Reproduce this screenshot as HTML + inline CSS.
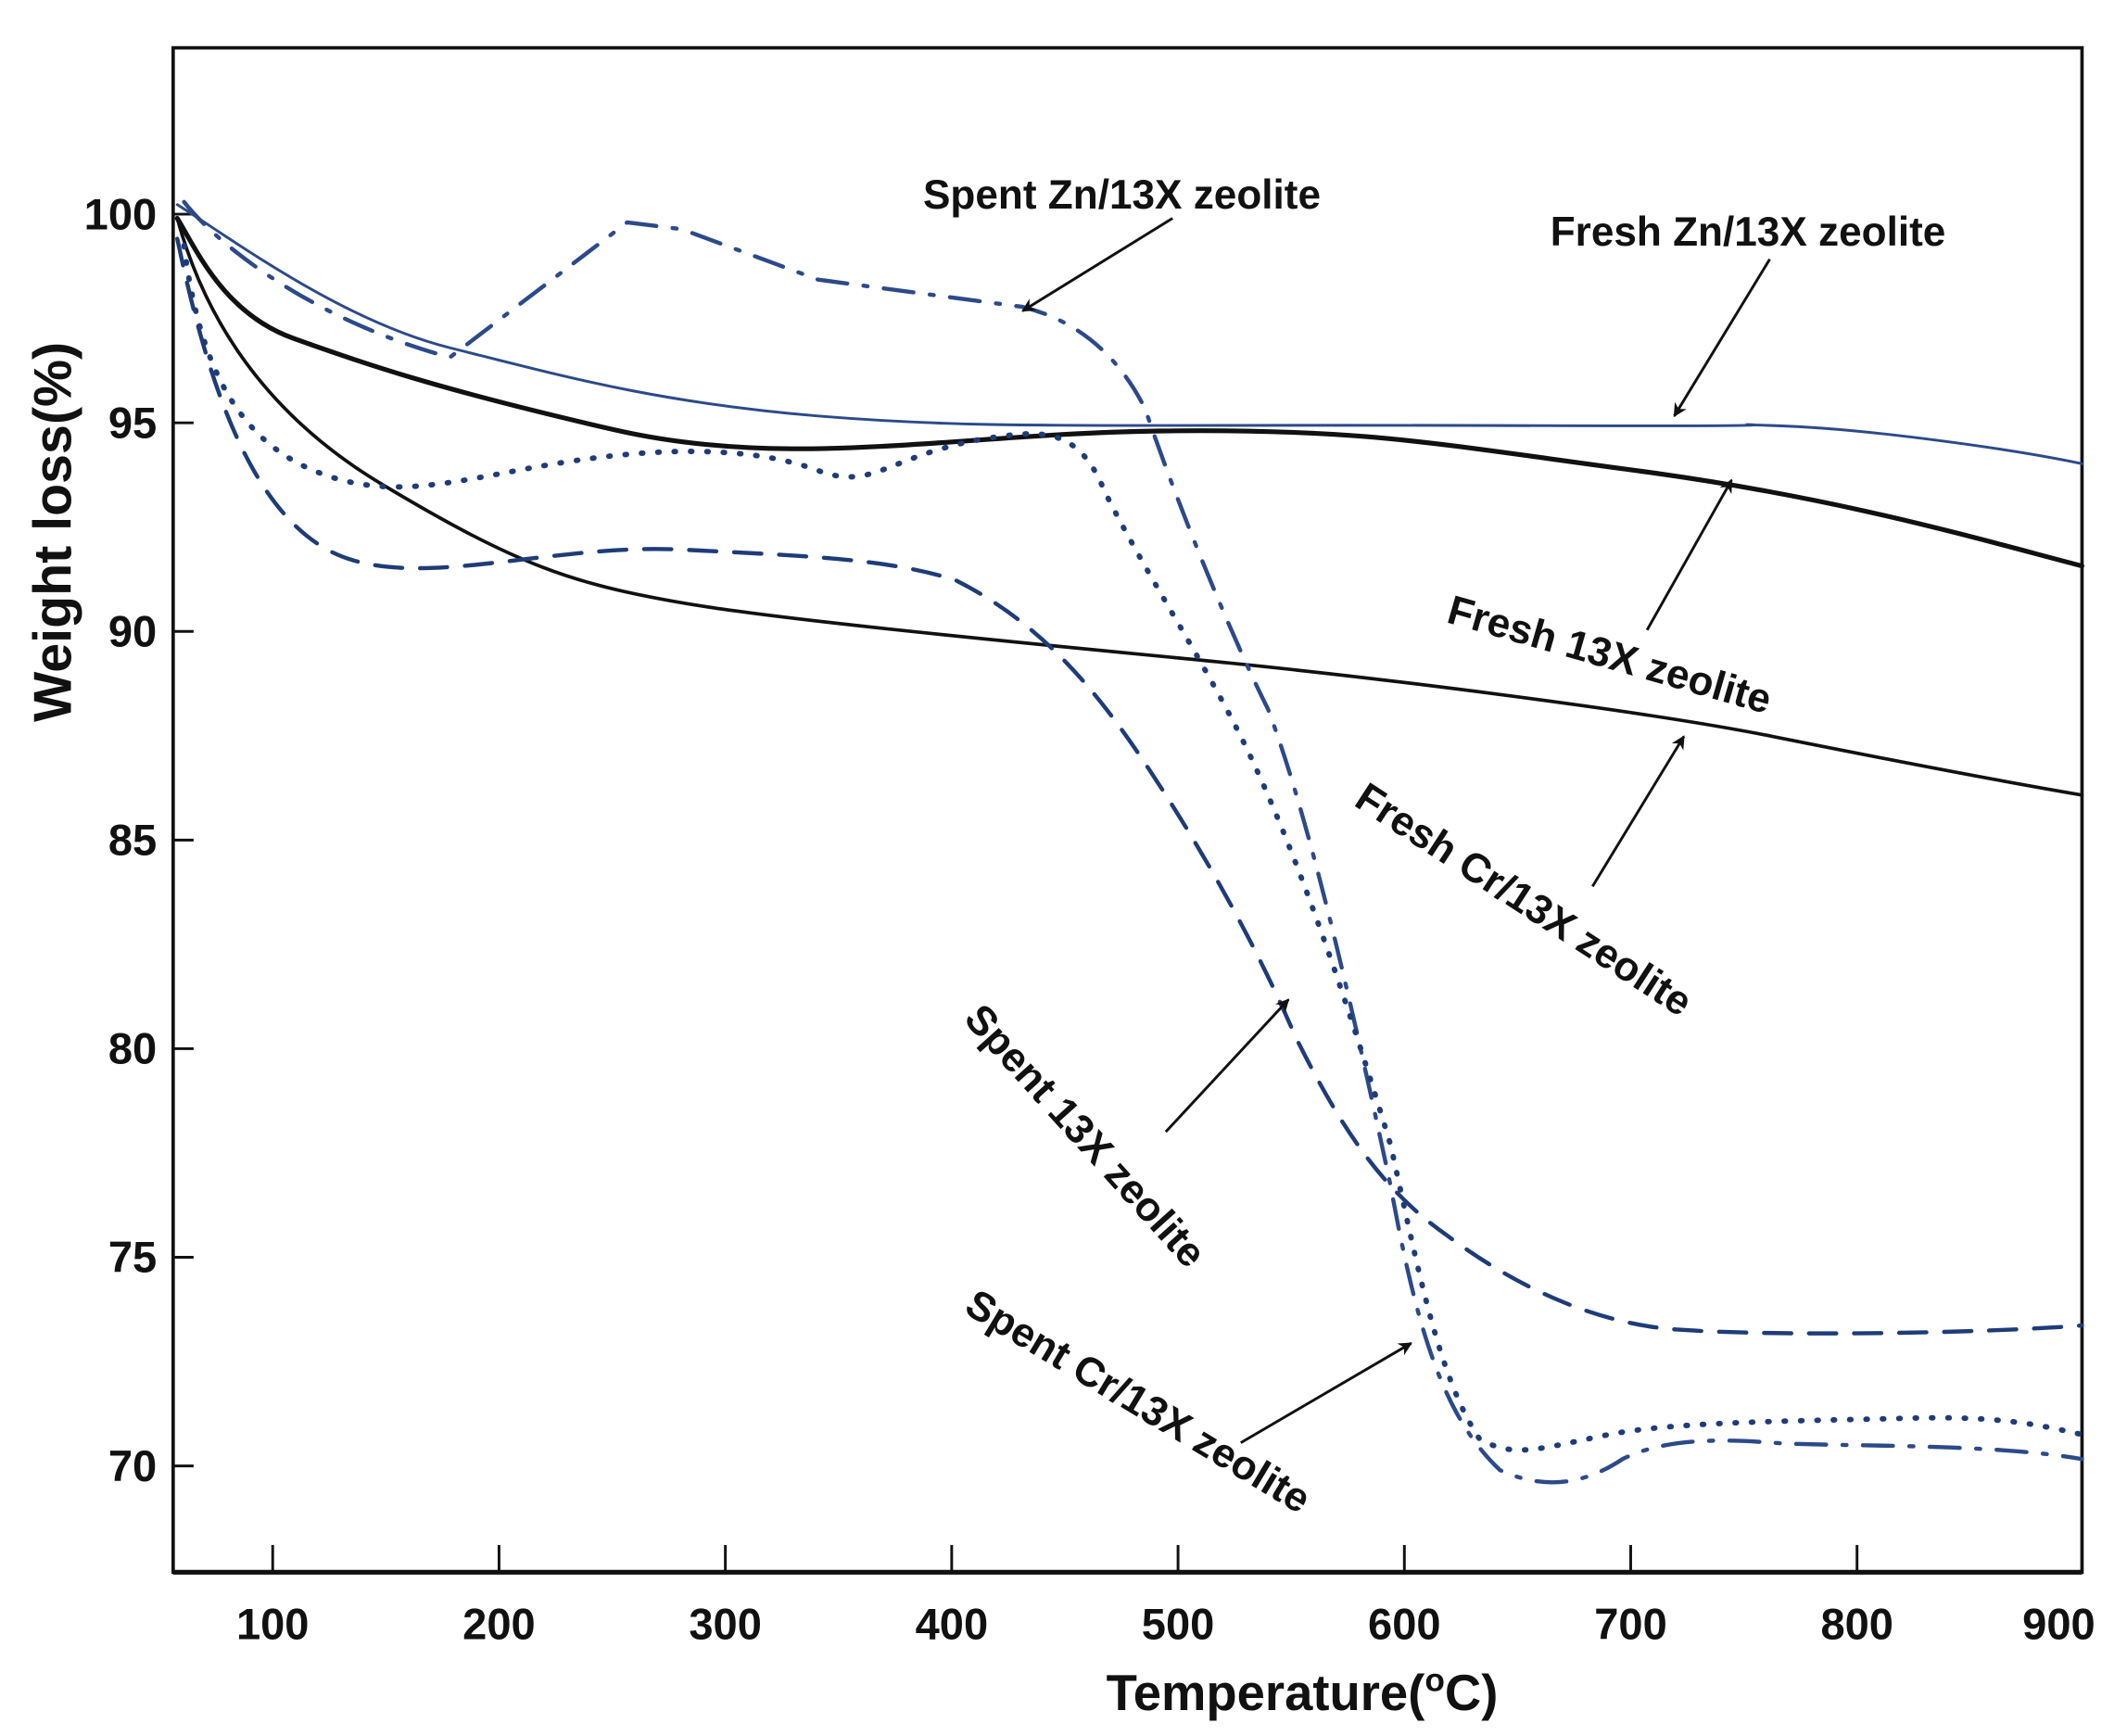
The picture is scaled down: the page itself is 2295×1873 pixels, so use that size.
<!DOCTYPE html>
<html><head><meta charset="utf-8"><style>
html,body{margin:0;padding:0;background:#fff;}
svg{display:block;}
text{font-family:"Liberation Sans",Arial,sans-serif;font-weight:bold;fill:#111;}
</style></head><body>
<svg width="2295" height="1873" viewBox="0 0 1560 1273" xmlns="http://www.w3.org/2000/svg">
<rect width="1560" height="1273" fill="#fff"/>
<defs><marker id="ah" markerWidth="10" markerHeight="10" refX="9" refY="5" orient="auto" markerUnits="userSpaceOnUse"><path d="M0,0 L10,5 L0,10 L3,5 z" fill="#111"/></marker></defs>
<rect x="127" y="35" width="1400" height="1118" fill="none" stroke="#111" stroke-width="2.5"/>
<line x1="127" y1="1153" x2="1527" y2="1153" stroke="#111" stroke-width="3.5"/>
<g stroke="#111" stroke-width="2">
<line x1="127" y1="157" x2="142" y2="157"/><line x1="127" y1="310" x2="142" y2="310"/>
<line x1="127" y1="463" x2="142" y2="463"/><line x1="127" y1="616" x2="142" y2="616"/>
<line x1="127" y1="769" x2="142" y2="769"/><line x1="127" y1="922" x2="142" y2="922"/>
<line x1="127" y1="1075" x2="142" y2="1075"/>
<line x1="200" y1="1153" x2="200" y2="1133"/><line x1="366" y1="1153" x2="366" y2="1133"/>
<line x1="532" y1="1153" x2="532" y2="1133"/><line x1="698" y1="1153" x2="698" y2="1133"/>
<line x1="864" y1="1153" x2="864" y2="1133"/><line x1="1030" y1="1153" x2="1030" y2="1133"/>
<line x1="1196" y1="1153" x2="1196" y2="1133"/><line x1="1362" y1="1153" x2="1362" y2="1133"/>
</g>
<g font-size="32" text-anchor="end">
<text x="115" y="168">100</text><text x="115" y="321">95</text><text x="115" y="474">90</text>
<text x="115" y="627">85</text><text x="115" y="780">80</text><text x="115" y="933">75</text><text x="115" y="1086">70</text>
</g>
<g font-size="32" text-anchor="middle">
<text x="200" y="1202">100</text><text x="366" y="1202">200</text><text x="532" y="1202">300</text>
<text x="698" y="1202">400</text><text x="864" y="1202">500</text><text x="1030" y="1202">600</text>
<text x="1196" y="1202">700</text><text x="1362" y="1202">800</text><text x="1510" y="1202">900</text>
</g>
<text x="955" y="1254" font-size="37" text-anchor="middle">Temperature(<tspan font-size="24" dy="-14">o</tspan><tspan dy="14">C)</tspan></text>
<text transform="translate(52,390) rotate(-90)" font-size="39" text-anchor="middle">Weight loss(%)</text>

<g fill="none" stroke-linecap="round" stroke-linejoin="round">
<path d="M130,150 C170,175 250,235 330,255 S480,295 600,305 S800,311 1100,312 S1230,310 1300,312 S1480,330 1527,340" stroke="#2c4a8a" stroke-width="2"/>
<path d="M130,160 C145,185 165,230 215,248 S320,285 450,315 S700,318 850,316 S1050,325 1200,345 S1450,395 1527,415" stroke="#111" stroke-width="3.5"/>
<path d="M130,160 C145,215 180,295 280,355 S420,428 500,442 S800,476 900,486 S1200,520 1300,540 S1480,575 1527,583" stroke="#111" stroke-width="2.5"/>
<path d="M135,148 C160,180 230,235 330,262 L460,163 L500,168 L600,205 L750,225 C790,235 820,260 840,300 C860,360 900,460 930,520 C960,600 990,730 1020,870 C1040,980 1060,1040 1100,1078 C1130,1092 1160,1090 1190,1070 C1220,1055 1260,1055 1300,1058 S1460,1058 1527,1070" stroke="#2c4a8a" stroke-width="3" stroke-dasharray="22,12,3,12"/>
<path d="M130,175 C150,270 180,370 240,403 S400,398 500,403 S650,410 700,425 C760,455 800,500 840,560 C880,620 920,690 950,760 C980,820 1010,870 1060,905 C1100,935 1160,970 1230,975 S1450,978 1527,972" stroke="#1e3c78" stroke-width="3" stroke-dasharray="20,13"/>
<path d="M135,180 C145,260 170,320 230,345 S340,350 420,338 S560,330 600,345 S650,335 720,322 C760,316 790,310 810,360 C840,420 880,480 910,540 C950,620 990,740 1020,840 C1040,930 1055,1010 1085,1055 C1110,1070 1130,1062 1180,1052 S1330,1042 1400,1040 S1500,1046 1527,1052" stroke="#1e3c78" stroke-width="4" stroke-dasharray="1,11"/>
</g>

<g stroke="#111" stroke-width="2" fill="none">
<line x1="860" y1="160" x2="750" y2="228" marker-end="url(#ah)"/>
<line x1="1298" y1="190" x2="1228" y2="305" marker-end="url(#ah)"/>
<line x1="1208" y1="462" x2="1270" y2="352" marker-end="url(#ah)"/>
<line x1="1168" y1="650" x2="1235" y2="540" marker-end="url(#ah)"/>
<line x1="855" y1="830" x2="945" y2="733" marker-end="url(#ah)"/>
<line x1="910" y1="1058" x2="1035" y2="985" marker-end="url(#ah)"/>
</g>
<g font-size="30">
<text x="677" y="153">Spent Zn/13X zeolite</text>
<text x="1137" y="180">Fresh Zn/13X zeolite</text>
<text transform="translate(1060,456) rotate(16)">Fresh 13X zeolite</text>
<text transform="translate(992,590) rotate(33)">Fresh Cr/13X zeolite</text>
<text transform="translate(706,748) rotate(48)">Spent 13X zeolite</text>
<text transform="translate(706,962) rotate(31)">Spent Cr/13X zeolite</text>
</g>
</svg>
</body></html>
